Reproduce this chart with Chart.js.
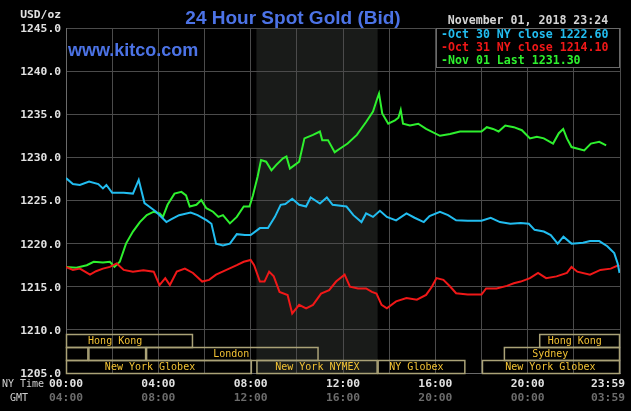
<!DOCTYPE html>
<html>
<head>
<meta charset="utf-8">
<script src="https://cdn.jsdelivr.net/npm/chart.js@4/dist/chart.umd.min.js"></script>
<style>
  html, body { margin: 0; padding: 0; background: #000; }
  canvas { display: block; }
</style>
</head>
<body>
<canvas id="gold" width="631" height="411"></canvas>
<script>
// ── Data (hours NY time, USD/oz) ─────────────────────────────
const oct30Hours = [0,0.3,0.6,1.0,1.4,1.6,1.75,2.0,2.5,2.9,3.15,3.4,3.6,3.9,4.35,4.55,4.9,5.4,5.7,6.1,6.3,6.5,6.8,7.1,7.4,7.75,8.0,8.4,8.75,9.05,9.3,9.5,9.8,10.1,10.4,10.6,11.0,11.3,11.55,12.15,12.45,12.8,13.0,13.3,13.6,13.9,14.3,14.75,15.1,15.5,15.75,16.2,16.55,16.9,17.4,18.0,18.4,18.8,19.25,19.7,20.05,20.3,20.7,21.0,21.3,21.55,21.9,22.4,22.7,23.1,23.45,23.75,23.9,23.98];
const oct30Prices = [1227.6,1226.9,1226.8,1227.2,1226.9,1226.4,1226.8,1225.9,1225.9,1225.8,1227.4,1224.7,1224.3,1223.7,1222.5,1222.8,1223.3,1223.6,1223.3,1222.7,1222.3,1220.0,1219.8,1220.0,1221.1,1221.0,1221.0,1221.8,1221.8,1223.1,1224.5,1224.6,1225.2,1224.5,1224.3,1225.35,1224.65,1225.35,1224.5,1224.3,1223.3,1222.5,1223.5,1223.1,1223.8,1223.1,1222.7,1223.5,1223.0,1222.5,1223.2,1223.7,1223.3,1222.7,1222.65,1222.65,1223.0,1222.5,1222.3,1222.4,1222.3,1221.6,1221.4,1221.0,1220.0,1220.8,1220.0,1220.1,1220.3,1220.3,1219.7,1218.9,1217.7,1216.6];

const oct31Hours = [0,0.3,0.6,1.04,1.3,1.6,1.9,2.2,2.5,2.9,3.35,3.8,4.05,4.3,4.5,4.8,5.15,5.5,5.9,6.2,6.5,6.95,7.4,7.7,8.0,8.15,8.4,8.6,8.8,9.0,9.25,9.6,9.8,10.1,10.4,10.7,11.05,11.4,11.7,12.07,12.3,12.65,13.0,13.25,13.45,13.67,13.9,14.3,14.75,15.2,15.6,15.85,16.05,16.35,16.65,16.9,17.4,18.0,18.2,18.65,19.1,19.4,19.7,20.1,20.45,20.8,21.25,21.7,21.9,22.15,22.7,23.15,23.6,23.9,23.98];
const oct31Prices = [1217.3,1216.95,1217.1,1216.4,1216.8,1217.1,1217.3,1217.7,1216.95,1216.75,1216.9,1216.75,1215.2,1216.0,1215.2,1216.75,1217.1,1216.6,1215.6,1215.8,1216.4,1216.95,1217.5,1217.9,1218.1,1217.5,1215.6,1215.6,1216.75,1216.2,1214.4,1214.05,1211.9,1212.9,1212.5,1212.9,1214.2,1214.6,1215.6,1216.4,1215.0,1214.8,1214.8,1214.4,1214.2,1212.9,1212.5,1213.3,1213.7,1213.5,1214.05,1215.0,1216.0,1215.8,1215.0,1214.25,1214.1,1214.1,1214.8,1214.8,1215.1,1215.4,1215.6,1216.0,1216.6,1216.0,1216.2,1216.6,1217.3,1216.75,1216.4,1216.95,1217.1,1217.45,1217.4];

const nov01Hours = [0,0.45,0.9,1.2,1.6,1.9,2.1,2.33,2.6,2.9,3.2,3.5,3.8,4.06,4.2,4.4,4.7,5.0,5.2,5.36,5.65,5.86,6.08,6.37,6.6,6.8,7.1,7.4,7.7,7.95,8.1,8.3,8.45,8.67,8.9,9.1,9.4,9.55,9.7,9.9,10.1,10.33,10.7,11.0,11.1,11.35,11.64,11.86,12.2,12.6,13.0,13.3,13.48,13.56,13.7,13.96,14.25,14.4,14.5,14.6,14.9,15.26,15.6,16.2,16.64,17.07,18.0,18.23,18.5,18.74,19.03,19.4,19.75,20.1,20.4,20.7,21.1,21.35,21.54,21.7,21.9,22.45,22.74,23.1,23.4];
const nov01Prices = [1217.3,1217.2,1217.5,1217.9,1217.8,1217.9,1217.3,1217.9,1220.0,1221.4,1222.5,1223.3,1223.7,1223.5,1223.1,1224.5,1225.8,1226.0,1225.6,1224.3,1224.5,1225.05,1224.1,1223.7,1223.1,1223.3,1222.35,1223.1,1224.3,1224.3,1225.6,1227.75,1229.7,1229.5,1228.5,1229.1,1229.9,1230.1,1228.7,1229.1,1229.5,1232.2,1232.6,1233.0,1232.0,1232.0,1230.6,1231.0,1231.6,1232.6,1234.1,1235.3,1236.8,1237.4,1235.1,1233.9,1234.3,1234.6,1235.5,1233.9,1233.7,1233.9,1233.3,1232.5,1232.7,1233.0,1233.0,1233.5,1233.3,1233.0,1233.7,1233.5,1233.15,1232.2,1232.4,1232.2,1231.6,1232.8,1233.3,1232.2,1231.2,1230.8,1231.6,1231.8,1231.4];

const yTicks    = [1205,1210,1215,1220,1225,1230,1235,1240,1245];
const nyTimes   = ['00:00','04:00','08:00','12:00','16:00','20:00','23:59'];
const gmtTimes  = ['04:00','08:00','12:00','16:00','20:00','00:00','03:59'];
const timeHours = [0,4,8,12,16,20,23.983];

const legendRows = [
  { text: 'Oct 30 NY close 1222.60', color: '#22bdf0' },
  { text: 'Oct 31 NY close 1214.10', color: '#f01818' },
  { text: 'Nov 01 Last 1231.30',     color: '#2ef02e' }
];

// session boxes: [row, from, to, label, label centre (hours)]
const sessions = [
  [0, 0,     5.5,   'Hong Kong',       2.13],
  [0, 20.5,  24,    'Hong Kong',       22.04],
  [1, 0,     0.97,  '',                0],
  [1, 0.97,  3.47,  '',                0],
  [1, 3.47,  10.94, 'London',          7.16],
  [1, 18.97, 24,    'Sydney',          20.98],
  [2, 0,     8.05,  'New York Globex', 3.64],
  [2, 8.25,  13.5,  'New York NYMEX',  10.89],
  [2, 13.5,  17.3,  'NY Globex',       15.18],
  [2, 18.02, 24,    'New York Globex', 20.98]
];
const nymexShade = [8.25, 13.5];

const MONO = '"DejaVu Sans Mono", monospace';

function pts(hours, prices) {
  return hours.map((h, i) => ({ x: h, y: prices[i] }));
}

// ── Plugins ──────────────────────────────────────────────────
const shadePlugin = {
  id: 'shade',
  beforeDraw(chart) {
    const { ctx, chartArea: a, scales: { x } } = chart;
    ctx.save();
    ctx.fillStyle = '#191b19';
    const x0 = x.getPixelForValue(nymexShade[0]);
    const x1 = x.getPixelForValue(nymexShade[1]);
    ctx.fillRect(x0, a.top, x1 - x0, a.bottom - a.top);
    ctx.restore();
  }
};

const sessionPlugin = {
  id: 'sessions',
  afterDatasetsDraw(chart) {
    const { ctx, chartArea: a, scales: { x } } = chart;
    const rowH = 13;
    ctx.save();
    ctx.strokeStyle = '#aaa277';
    ctx.lineWidth = 1.5;
    ctx.font = '10px ' + MONO;
    ctx.textAlign = 'center';
    ctx.textBaseline = 'middle';
    sessions.forEach(([row, from, to, label, lx]) => {
      const top = a.bottom - rowH * (3 - row);
      const x0 = x.getPixelForValue(from), x1 = x.getPixelForValue(to);
      ctx.strokeRect(x0 + 0.5, top + 0.5, x1 - x0 - 1, rowH);
      if (label) {
        ctx.fillStyle = '#f2c234';
        ctx.fillText(label, x.getPixelForValue(lx), top + rowH / 2 + 1);
      }
    });
    ctx.restore();
  }
};

const textPlugin = {
  id: 'texts',
  afterDraw(chart) {
    const { ctx, chartArea: a, scales: { x, y } } = chart;
    ctx.save();

    // title + site
    ctx.fillStyle = '#4c73e6';
    ctx.font = 'bold 19px "Liberation Sans", Arial, sans-serif';
    ctx.textAlign = 'center';
    ctx.textBaseline = 'alphabetic';
    ctx.fillText('24 Hour Spot Gold (Bid)', 293, 24);
    ctx.textAlign = 'left';
    ctx.font = 'bold 18px "Liberation Sans", Arial, sans-serif';
    ctx.fillText('www.kitco.com', 68, 56);

    // date
    ctx.fillStyle = '#d4d4d4';
    ctx.font = 'bold 11.6px ' + MONO;
    ctx.textAlign = 'center';
    ctx.textBaseline = 'middle';
    ctx.fillText('November 01, 2018 23:24', 528, 21);

    // legend box
    const lx = 436;
    ctx.fillStyle = '#000';
    ctx.fillRect(lx, a.top, a.right - lx, 39);
    ctx.strokeStyle = '#6a6a6a';
    ctx.lineWidth = 1;
    ctx.strokeRect(lx + 0.5, a.top + 0.5, a.right - lx - 1, 39);
    ctx.textAlign = 'left';
    legendRows.forEach((r, i) => {
      ctx.fillStyle = r.color;
      ctx.fillText('-' + r.text, 441, a.top + 7 + i * 12.8);
    });

    // y labels
    ctx.fillStyle = '#e2e2e2';
    ctx.font = 'bold 11.3px ' + MONO;
    ctx.textAlign = 'right';
    yTicks.forEach(v => ctx.fillText(v.toFixed(1), 61, y.getPixelForValue(v) + 1));
    ctx.fillText('USD/oz', 61, 15);

    // x labels
    ctx.textAlign = 'center';
    timeHours.forEach((h, i) => {
      let px = x.getPixelForValue(h);
      if (i === timeHours.length - 1) { ctx.textAlign = 'right'; px = 625; }
      ctx.fillStyle = '#e2e2e2';
      ctx.fillText(nyTimes[i], px, 384);
      ctx.fillStyle = '#6c6c6c';
      ctx.fillText(gmtTimes[i], px, 398);
    });
    ctx.font = '10px ' + MONO;
    ctx.fillStyle = '#cfcfcf';
    ctx.textAlign = 'left';
    ctx.fillText('NY Time', 2, 384);
    ctx.fillText('GMT', 10, 398);
    ctx.restore();
  }
};

// ── Chart ────────────────────────────────────────────────────
const line = (data, color) => ({
  data, borderColor: color, borderWidth: 2, pointRadius: 0, tension: 0, fill: false
});

new Chart(document.getElementById('gold'), {
  type: 'line',
  data: {
    datasets: [
      line(pts(oct30Hours, oct30Prices), legendRows[0].color),
      line(pts(oct31Hours, oct31Prices), legendRows[1].color),
      line(pts(nov01Hours, nov01Prices), legendRows[2].color)
    ]
  },
  options: {
    responsive: false, animation: false,
    layout: { padding: { left: 66, right: 11, top: 28, bottom: 38 } },
    plugins: { legend: { display: false }, tooltip: { enabled: false } },
    scales: {
      x: {
        type: 'linear', min: 0, max: 24,
        ticks: { display: false, stepSize: 2 },
        grid: { color: '#4b4b4b', drawTicks: false },
        border: { color: '#6a6a6a' }
      },
      y: {
        min: 1205, max: 1245,
        ticks: { display: false, stepSize: 5 },
        grid: { color: '#4b4b4b', drawTicks: false },
        border: { color: '#6a6a6a' }
      }
    }
  },
  plugins: [shadePlugin, sessionPlugin, textPlugin]
});
</script>
</body>
</html>
